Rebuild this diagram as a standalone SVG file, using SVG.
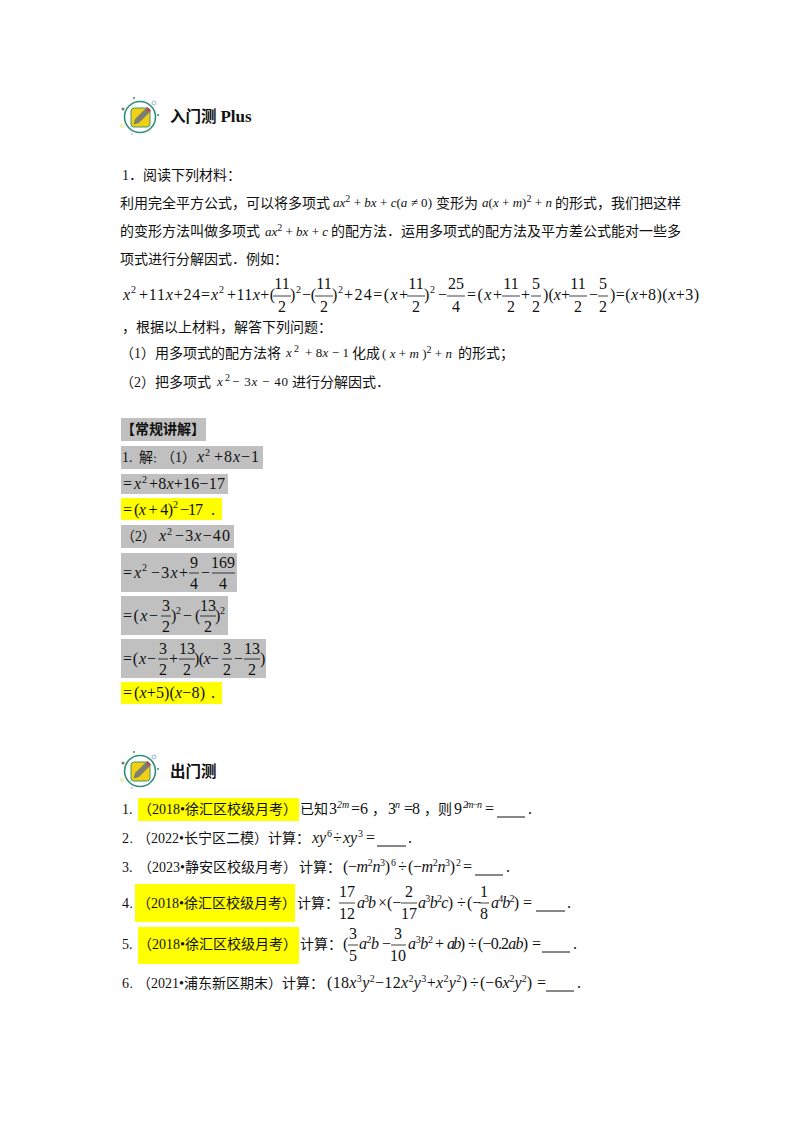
<svg xmlns="http://www.w3.org/2000/svg" width="800" height="1132" viewBox="0 0 800 1132">
<style>
text{fill:#111;font-family:"Liberation Serif","Noto Sans CJK SC",serif;white-space:pre;text-spacing-trim:space-all}
.c{font-size:14px}
.h{font-size:15.500px;font-weight:700}
.m{font-size:16px}
.n{font-size:13px}
.i{font-style:italic}
.s{font-size:10px}
.f{font-size:16px;text-anchor:middle}
.d{font-size:8px;font-weight:700}
.g{fill:#c0c0c0}
.y{fill:#ffff00}
.l{stroke:#111;stroke-width:.8;fill:none}
.u{stroke:#111;stroke-width:1;fill:none}
</style>
<defs>
<g id="icon">
<circle cx="140" cy="117" r="15.500" fill="#fff" stroke="#2e8f78" stroke-width="1.600"/>
<rect x="131" y="108" width="19" height="19" rx="3" fill="#f3cf14" stroke="#3c9a6e" stroke-width="1"/>
<path d="M134 124l1.500-5 10-10 3.500 3.500-10 10z" fill="#7a7f78" stroke="#4f6f60" stroke-width=".5"/>
<path d="M145.500 109l2-2 3.500 3.500-2 2z" fill="#b5475a"/>
<circle cx="123" cy="109" r="1.500" fill="#777"/>
<circle cx="154" cy="103" r="2" fill="none" stroke="#9cb7d6"/>
<circle cx="158" cy="115" r="1" fill="#2e8f78"/>
<circle cx="134" cy="98" r="1" fill="#2e8f78"/>
<circle cx="122" cy="126" r="1.500" fill="none" stroke="#ece58a"/>
<circle cx="132" cy="134" r="1" fill="#a6d6c6"/>
</g>
</defs>
<rect width="800" height="1132" fill="#fff"/>

<g id="heading-entry">
<use href="#icon"/>
<text class="h" x="170" y="122">入门测 <tspan font-size="17">Plus</tspan></text>
</g>

<g id="problem">
<text class="c" x="122" y="180">1．阅读下列材料：</text>
<text class="c" x="120" y="208">利用完全平方公式，可以将多项式</text>
<text class="n" x="333" y="207" textLength="99" xml:space="preserve"><tspan class="i">ax</tspan><tspan class="s" dy="-5">2</tspan><tspan dy="5"> + </tspan><tspan class="i">bx</tspan> + <tspan class="i">c</tspan>(<tspan class="i">a</tspan> ≠ 0)</text>
<text class="c" x="436" y="208">变形为</text>
<text class="n" x="482" y="207" textLength="70" xml:space="preserve"><tspan class="i">a</tspan>(<tspan class="i">x</tspan> + <tspan class="i">m</tspan>)<tspan class="s" dy="-5">2</tspan><tspan dy="5"> + </tspan><tspan class="i">n</tspan></text>
<text class="c" x="555" y="208">的形式，我们把这样</text>

<text class="c" x="120" y="236">的变形方法叫做多项式</text>
<text class="n" x="265" y="236" textLength="63" xml:space="preserve"><tspan class="i">ax</tspan><tspan class="s" dy="-5">2</tspan><tspan dy="5"> + </tspan><tspan class="i">bx</tspan> + <tspan class="i">c</tspan></text>
<text class="c" x="331" y="236">的配方法．运用多项式的配方法及平方差公式能对一些多</text>
<text class="c" x="120" y="264">项式进行分解因式．例如：</text>

<g id="worked-equation">
<text class="m i" x="123" y="300">x</text><text class="s" x="131" y="293">2</text>
<text class="m" x="139" y="300" textLength="71">+11<tspan class="i">x</tspan>+24=</text>
<text class="m i" x="211" y="300">x</text><text class="s" x="219" y="293">2</text>
<text class="m" x="227" y="300" textLength="48">+11<tspan class="i">x</tspan>+(</text>
<text class="f" x="282" y="289">11</text><path class="l" d="M273 296h18"/><text class="f" x="282" y="312">2</text>
<text class="m" x="290" y="300">)</text><text class="s" x="296" y="293">2</text>
<text class="m" x="302" y="300" textLength="14">−(</text>
<text class="f" x="324" y="289">11</text><path class="l" d="M315 296h18"/><text class="f" x="324" y="312">2</text>
<text class="m" x="332" y="300">)</text><text class="s" x="338" y="293">2</text>
<text class="m" x="344" y="300" textLength="64">+24=(<tspan class="i">x</tspan>+</text>
<text class="f" x="416" y="289">11</text><path class="l" d="M407 296h18"/><text class="f" x="416" y="312">2</text>
<text class="m" x="424" y="300">)</text><text class="s" x="430" y="293">2</text>
<text class="m" x="438" y="300">−</text>
<text class="f" x="456" y="289">25</text><path class="l" d="M447 296h18"/><text class="f" x="456" y="312">4</text>
<text class="m" x="467" y="300" textLength="35">=(<tspan class="i">x</tspan>+</text>
<text class="f" x="511" y="289">11</text><path class="l" d="M502 296h18"/><text class="f" x="511" y="312">2</text>
<text class="m" x="521" y="300">+</text>
<text class="f" x="536" y="289">5</text><path class="l" d="M531 296h10"/><text class="f" x="536" y="312">2</text>
<text class="m" x="543" y="300" textLength="27">)(<tspan class="i">x</tspan>+</text>
<text class="f" x="578" y="289">11</text><path class="l" d="M569 296h18"/><text class="f" x="578" y="312">2</text>
<text class="m" x="589" y="300">−</text>
<text class="f" x="603" y="289">5</text><path class="l" d="M598 296h10"/><text class="f" x="603" y="312">2</text>
<text class="m" x="610" y="300" textLength="89">)=(<tspan class="i">x</tspan>+8)(<tspan class="i">x</tspan>+3)</text>
</g>

<text class="c" x="122" y="332">，根据以上材料，解答下列问题：</text>
<text class="c" x="120" y="358">（1）用多项式的配方法将</text>
<text class="n i" x="286" y="357">x</text><text class="s" x="294" y="352">2</text>
<text class="n" x="305" y="357" textLength="44" xml:space="preserve">+ 8<tspan class="i">x</tspan> − 1</text>
<text class="c" x="352" y="358">化成</text>
<text class="n" x="382" y="358" textLength="70" xml:space="preserve">( <tspan class="i">x</tspan> + <tspan class="i">m</tspan> )<tspan class="s" dy="-5">2</tspan><tspan dy="5"> + </tspan><tspan class="i">n</tspan></text>
<text class="c" x="458" y="358">的形式；</text>
<text class="c" x="120" y="387">（2）把多项式</text>
<text class="n i" x="217" y="386">x</text><text class="s" x="225" y="381">2</text>
<text class="n" x="232" y="386" textLength="56" xml:space="preserve">− 3<tspan class="i">x</tspan> − 40</text>
<text class="c" x="292" y="387">进行分解因式．</text>
</g>

<g id="solution">
<rect class="g" x="121" y="418" width="85" height="23"/>
<rect class="g" x="121" y="446" width="142" height="23"/>
<rect class="g" x="121" y="474" width="107" height="20"/>
<rect class="y" x="121" y="498" width="101" height="22"/>
<rect class="g" x="121" y="525" width="113" height="23"/>
<rect class="g" x="121" y="553" width="116" height="39"/>
<rect class="g" x="121" y="596" width="107" height="39"/>
<rect class="g" x="121" y="639" width="145" height="39"/>
<rect class="y" x="121" y="682" width="101" height="22"/>

<text class="c" x="121" y="434" font-weight="700">【常规讲解】</text>
<text class="c" x="122" y="462">1.</text><text class="c" x="139" y="462">解<tspan class="d">：</tspan></text><text class="c" x="161" y="462">（1）</text>
<text class="m i" x="197" y="462">x</text><text class="s" x="205" y="456">2</text>
<text class="m" x="214" y="462" textLength="45">+8<tspan class="i">x</tspan>−1</text>

<text class="m" x="123" y="489">=</text><text class="m i" x="134" y="489">x</text><text class="s" x="142" y="483">2</text>
<text class="m" x="149" y="489" textLength="76">+8<tspan class="i">x</tspan>+16−17</text>

<text class="m" x="123" y="515">=</text><text class="m" x="134" y="515" textLength="39">(<tspan class="i">x</tspan> + 4)</text><text class="s" x="173" y="508">2</text>
<text class="m" x="180" y="515" textLength="23">−17</text><text class="m" x="211" y="515">.</text>

<text class="c" x="121" y="541">（2）</text>
<text class="m i" x="159" y="541">x</text><text class="s" x="167" y="535">2</text>
<text class="m" x="175" y="541" textLength="55">−3<tspan class="i">x</tspan>−40</text>

<g id="step-complete-square">
<text class="m" x="123" y="578">=</text><text class="m i" x="134" y="578">x</text><text class="s" x="142" y="571">2</text>
<text class="m" x="151" y="578" textLength="37">−3<tspan class="i">x</tspan>+</text>
<text class="f" x="194" y="568">9</text><path class="l" d="M189 573h10"/><text class="f" x="194" y="589">4</text>
<text class="m" x="201" y="578">−</text>
<text class="f" x="223" y="568">169</text><path class="l" d="M212 573h23"/><text class="f" x="223" y="589">4</text>
</g>
<g id="step-difference">
<text class="m" x="123" y="621" textLength="35">=(<tspan class="i">x</tspan>−</text>
<text class="f" x="166" y="611">3</text><path class="l" d="M161 616h10"/><text class="f" x="166" y="632">2</text>
<text class="m" x="171" y="621">)</text><text class="s" x="176" y="614">2</text>
<text class="m" x="183" y="621">−</text><text class="m" x="195" y="621">(</text>
<text class="f" x="208" y="611">13</text><path class="l" d="M200 616h16"/><text class="f" x="208" y="632">2</text>
<text class="m" x="215" y="621">)</text><text class="s" x="220" y="614">2</text>
</g>
<g id="step-factor">
<text class="m" x="123" y="664" textLength="33">=(<tspan class="i">x</tspan>−</text>
<text class="f" x="163" y="654">3</text><path class="l" d="M158 659h10"/><text class="f" x="163" y="675">2</text>
<text class="m" x="169" y="664">+</text>
<text class="f" x="187" y="654">13</text><path class="l" d="M179 659h16"/><text class="f" x="187" y="675">2</text>
<text class="m" x="194" y="664" textLength="25">)(<tspan class="i">x</tspan>−</text>
<text class="f" x="227" y="654">3</text><path class="l" d="M222 659h10"/><text class="f" x="227" y="675">2</text>
<text class="m" x="234" y="664">−</text>
<text class="f" x="252" y="654">13</text><path class="l" d="M244 659h16"/><text class="f" x="252" y="675">2</text>
<text class="m" x="260" y="664">)</text>
</g>
<text class="m" x="123" y="698">=</text>
<text class="m" x="134" y="698" textLength="71">(<tspan class="i">x</tspan>+5)(<tspan class="i">x</tspan>−8)</text><text class="m" x="211" y="698">.</text>
</g>

<g id="heading-exit">
<use href="#icon" y="654"/>
<text class="h" x="170" y="777">出门测</text>
</g>

<g id="exercises">
<rect class="y" x="138" y="798" width="161" height="23"/>
<rect class="y" x="135" y="884" width="160" height="38"/>
<rect class="y" x="138" y="927" width="161" height="37"/>

<g id="q1">
<text class="c" x="122" y="814">1.</text>
<text class="c" x="138" y="814">（2018•徐汇区校级月考）</text>
<text class="c" x="300" y="814">已知</text>
<text class="m" x="329" y="814">3</text><text class="s i" x="337" y="808">2m</text>
<text class="m" x="351" y="814" textLength="17">= 6</text><text class="c" x="372" y="814">，</text>
<text class="m" x="388" y="814">3</text><text class="s i" x="395" y="808">n</text>
<text class="m" x="404" y="814" textLength="16">= 8</text><text class="c" x="424" y="814">，</text>
<text class="c" x="438" y="814">则</text>
<text class="m" x="454" y="814">9</text><text class="s i" x="463" y="808" textLength="19">2m−n</text>
<text class="m" x="485" y="814">=</text>
<path class="u" d="M497 817h28"/><text class="m" x="528" y="814">.</text>
</g>
<g id="q2">
<text class="c" x="122" y="843">2<tspan class="d">．</tspan></text>
<text class="c" x="137" y="843">（2022•长宁区二模）</text>
<text class="c" x="268" y="843">计算：</text>
<text class="m i" x="312" y="843">xy</text><text class="s" x="327" y="837">6</text>
<text class="m" x="333" y="843">÷</text>
<text class="m i" x="343" y="843">xy</text><text class="s" x="358" y="837">3</text>
<text class="m" x="366" y="843">=</text>
<path class="u" d="M377 846h29"/><text class="m" x="408" y="843">.</text>
</g>
<g id="q3">
<text class="c" x="122" y="872">3.</text>
<text class="c" x="138" y="872">（2023•静安区校级月考）</text>
<text class="c" x="299" y="872">计算：</text>
<text class="m" x="343" y="872" textLength="47">(−<tspan class="i">m</tspan><tspan class="s" dy="-6">2</tspan><tspan class="i" dy="6">n</tspan><tspan class="s" dy="-6">3</tspan><tspan dy="6">)</tspan></text><text class="s" x="391" y="866">6</text>
<text class="m" x="398" y="872">÷</text>
<text class="m" x="408" y="872" textLength="47">(−<tspan class="i">m</tspan><tspan class="s" dy="-6">2</tspan><tspan class="i" dy="6">n</tspan><tspan class="s" dy="-6">3</tspan><tspan dy="6">)</tspan></text><text class="s" x="456" y="866">2</text>
<text class="m" x="463" y="872">=</text>
<path class="u" d="M475 875h28"/><text class="m" x="506" y="872">.</text>
</g>
<g id="q4">
<text class="c" x="122" y="908">4<tspan class="d">．</tspan></text>
<text class="c" x="137" y="908">（2018•徐汇区校级月考）</text>
<text class="c" x="297" y="908">计算：</text>
<text class="f" x="347" y="897">17</text><path class="l" d="M339 903h16"/><text class="f" x="347" y="919">12</text>
<text class="m" x="357" y="908" textLength="19"><tspan class="i">a</tspan><tspan class="s" dy="-6">3</tspan><tspan class="i" dy="6">b</tspan></text>
<text class="m" x="378" y="908">×</text>
<text class="m" x="387" y="908">(−</text>
<text class="f" x="409" y="897">2</text><path class="l" d="M401 903h16"/><text class="f" x="409" y="919">17</text>
<text class="m" x="418" y="908" textLength="35"><tspan class="i">a</tspan><tspan class="s" dy="-6">3</tspan><tspan class="i" dy="6">b</tspan><tspan class="s" dy="-6">2</tspan><tspan class="i" dy="6">c</tspan>)</text>
<text class="m" x="457" y="908">÷</text>
<text class="m" x="467" y="908">(−</text>
<text class="f" x="484" y="897">1</text><path class="l" d="M479 903h10"/><text class="f" x="484" y="919">8</text>
<text class="m" x="491" y="908" textLength="28"><tspan class="i">a</tspan><tspan class="s" dy="-6">4</tspan><tspan class="i" dy="6">b</tspan><tspan class="s" dy="-6">2</tspan><tspan dy="6">)</tspan></text>
<text class="m" x="523" y="908">=</text>
<path class="u" d="M536 911h29"/><text class="m" x="567" y="908">.</text>
</g>
<g id="q5">
<text class="c" x="122" y="949">5.</text>
<text class="c" x="138" y="949">（2018•徐汇区校级月考）</text>
<text class="c" x="300" y="949">计算：</text>
<text class="m" x="343" y="949">(</text>
<text class="f" x="353" y="939">3</text><path class="l" d="M348 945h10"/><text class="f" x="353" y="961">5</text>
<text class="m" x="359" y="949" textLength="20"><tspan class="i">a</tspan><tspan class="s" dy="-6">2</tspan><tspan class="i" dy="6">b</tspan></text>
<text class="m" x="382" y="949">−</text>
<text class="f" x="398" y="939">3</text><path class="l" d="M391 945h15"/><text class="f" x="398" y="961">10</text>
<text class="m" x="408" y="949" textLength="25"><tspan class="i">a</tspan><tspan class="s" dy="-6">3</tspan><tspan class="i" dy="6">b</tspan><tspan class="s" dy="-6">2</tspan></text>
<text class="m" x="435" y="949">+</text>
<text class="m" x="447" y="949" textLength="18"><tspan class="i">ab</tspan>)</text>
<text class="m" x="468" y="949">÷</text>
<text class="m" x="478" y="949" textLength="50">(−0.2<tspan class="i">ab</tspan>)</text>
<text class="m" x="532" y="949">=</text>
<path class="u" d="M542 952h28"/><text class="m" x="573" y="949">.</text>
</g>
<g id="q6">
<text class="c" x="122" y="988">6<tspan class="d">．</tspan></text>
<text class="c" x="137" y="988">（2021•浦东新区期末）</text>
<text class="c" x="282" y="988">计算：</text>
<text class="m" x="327" y="988" textLength="140">(18<tspan class="i">x</tspan><tspan class="s" dy="-6">3</tspan><tspan class="i" dy="6">y</tspan><tspan class="s" dy="-6">2</tspan><tspan dy="6">−12</tspan><tspan class="i">x</tspan><tspan class="s" dy="-6">2</tspan><tspan class="i" dy="6">y</tspan><tspan class="s" dy="-6">3</tspan><tspan dy="6">+</tspan><tspan class="i">x</tspan><tspan class="s" dy="-6">2</tspan><tspan class="i" dy="6">y</tspan><tspan class="s" dy="-6">2</tspan><tspan dy="6">)</tspan></text>
<text class="m" x="470" y="988">÷</text>
<text class="m" x="480" y="988" textLength="52">(−6<tspan class="i">x</tspan><tspan class="s" dy="-6">2</tspan><tspan class="i" dy="6">y</tspan><tspan class="s" dy="-6">2</tspan><tspan dy="6">)</tspan></text>
<text class="m" x="537" y="988">=</text>
<path class="u" d="M546 991h28"/><text class="m" x="577" y="988">.</text>
</g>
</g>
</svg>
